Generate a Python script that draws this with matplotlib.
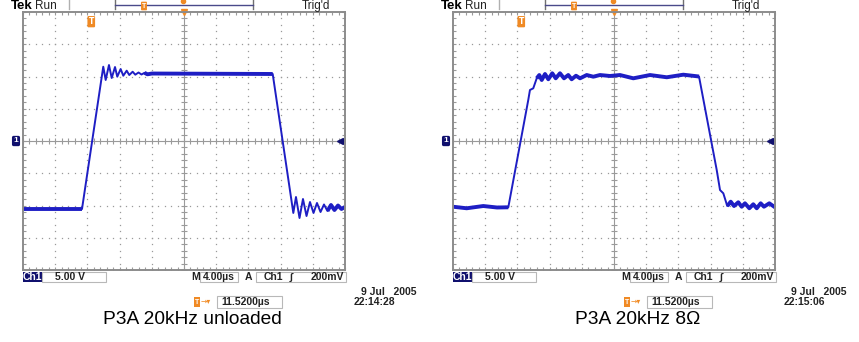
import numpy as np
import matplotlib
matplotlib.use("Agg")
import matplotlib.pyplot as plt
from matplotlib.patches import Rectangle
from matplotlib.lines import Line2D

# waveform vertices (time in us, volts)
left_t = [0.0, 7.33, 9.97, 10.27, 10.68, 11.02, 11.43, 11.71, 12.13, 12.46, 12.88, 13.20,
          13.62, 13.95, 14.35, 14.72, 15.09, 15.46, 16.02, 31.02, 33.58, 33.91, 34.35,
          34.78, 35.22, 35.65, 36.09, 36.52, 36.96, 37.39, 37.82, 38.26, 38.69, 39.13,
          39.56, 40.0]
left_v = [-10.54, -10.54, 11.52, 9.46, 11.78, 9.77, 11.47, 9.97, 11.16, 10.12, 10.90, 10.23,
          10.74, 10.28, 10.62, 10.31, 10.57, 10.34, 10.46, 10.39, -11.16, -8.68, -11.94,
          -8.99, -11.63, -9.46, -11.16, -9.61, -11.01, -9.84, -10.85, -9.92, -10.70, -10.0,
          -10.54, -10.23]

right_t = [0.0, 1.70, 3.76, 5.47, 6.87, 9.35, 9.56, 9.97, 10.40, 10.72, 11.02, 11.43, 11.84,
           12.33, 12.76, 13.29, 13.79, 14.32, 14.74, 15.28, 15.78, 16.61, 17.43, 18.26, 19.50,
           20.74, 22.40, 24.47, 26.55, 28.61, 30.56, 32.76, 33.17, 33.58, 34.07, 34.50, 34.91,
           35.44, 35.86, 36.27, 36.81, 37.30, 37.73, 38.22, 38.63, 39.29, 40.0]
right_v = [-10.19, -10.43, -10.08, -10.31, -10.28, 6.36, 7.91, 8.17, 9.72, 10.23, 9.46, 10.39,
           9.57, 10.50, 9.72, 10.50, 9.72, 10.23, 9.57, 10.12, 9.72, 10.23, 9.97, 10.23, 10.08,
           10.23, 9.72, 10.23, 9.88, 10.28, 10.0, -4.50, -7.60, -8.11, -10.08, -9.41, -10.08,
           -9.50, -10.19, -9.66, -10.43, -9.81, -10.43, -9.66, -10.19, -9.66, -10.28]

# index ranges where the trace shows as a thick noisy band
left_thick = [(0, 2), (16, 20), (30, 36)]
right_thick = [(0, 5), (8, 31), (34, 47)]

titles = ["P3A 20kHz unloaded", "P3A 20kHz 8Ω"]
title_x = [192.5, 638]
clocks = ["22:14:28", "22:15:06"]
volts_div = "5.00 V"
time_div = "4.00µs"
trig_level = "200mV"
trig_pos = "11.5200µs"
date = "9 Jul   2005"

W, H = 859, 342
TRACE = "#1e1ec4"
GRID = "#9a9a9a"
ORANGE = "#f08a24"
NAVY = "#10106e"
SCOPE_FONT = ["Liberation Sans", "DejaVu Sans"]

fig = plt.figure(figsize=(W / 100, H / 100), dpi=100)
fig.patch.set_facecolor("white")


def fx(x):
    return x / W


def fy(y):
    return 1 - y / H


def ftext(x, y, s, **kw):
    kw.setdefault("family", SCOPE_FONT)
    kw.setdefault("va", "center")
    fig.text(fx(x), fy(y), s, **kw)


def fbox(x0, y0, x1, y1, **kw):
    fig.add_artist(Rectangle((fx(x0), fy(y1)), fx(x1) - fx(x0), fy(y0) - fy(y1),
                             transform=fig.transFigure, **kw))


def fline(xs, ys, **kw):
    fig.add_artist(Line2D([fx(x) for x in xs], [fy(y) for y in ys],
                          transform=fig.transFigure, **kw))


def panel(ox, t, v, thick, title, tx, clock):
    ax = fig.add_axes([fx(ox + 23), fy(270), 322 / W, 258 / H])
    ax.set_xlim(0, 40)
    ax.set_ylim(-20, 20)

    # graticule: dotted divisions, ticked centre lines
    ydots = np.arange(-20, 20.01, 1.0)
    xdots = np.arange(0, 40.01, 0.8)
    for x in np.arange(4, 40, 4):
        if x != 20:
            ax.plot(np.full_like(ydots, x), ydots, ls="none", marker="s", ms=0.9,
                    mew=0, color=GRID)
    for y in np.arange(-15, 20, 5):
        if y != 0:
            ax.plot(xdots, np.full_like(xdots, y), ls="none", marker="s", ms=0.9,
                    mew=0, color=GRID)
    ax.axhline(0, color=GRID, lw=0.8)
    ax.axvline(20, color=GRID, lw=0.8)
    ax.plot(xdots, np.zeros_like(xdots), ls="none", marker="|", ms=4, mew=0.8, color=GRID)
    ax.plot(np.full_like(ydots, 20), ydots, ls="none", marker="_", ms=4, mew=0.8, color=GRID)

    ax.set_xticks(xdots)
    ax.set_yticks(ydots)
    ax.tick_params(direction="in", length=2.5, width=0.8, color=GRID, top=True, right=True,
                   labelbottom=False, labelleft=False)
    for sp in ax.spines.values():
        sp.set_color("#8c8c8c")
        sp.set_linewidth(1.4)

    # trace
    ax.plot(t, v, color=TRACE, lw=1.4, solid_joinstyle="round")
    for a, b in thick:
        ax.plot(t[a:b], v[a:b], color=TRACE, lw=2.8, solid_capstyle="butt")

    # markers on the graticule
    ax.plot([39.4], [0], marker="<", ms=4.5, color=NAVY, clip_on=False)
    ax.plot([20], [20], marker="v", ms=5, color=ORANGE, clip_on=False)
    ax.text(8.48, 18.5, "T", color="white", fontsize=5.5, fontweight="bold",
            ha="center", va="center",
            bbox=dict(boxstyle="round,pad=0.15", fc=ORANGE, ec="none"))
    ftext(ox + 16, 141, "1", color="white", fontsize=6, fontweight="bold", ha="center",
          bbox=dict(boxstyle="round,pad=0.2", fc=NAVY, ec="none"))

    # top status bar
    ftext(ox + 11, 6, "Tek", fontsize=9.5, fontweight="bold", color="black")
    ftext(ox + 35, 6, "Run", fontsize=8.5, color="#222222")
    ftext(ox + 302, 6, "Trig'd", fontsize=8.5, color="#222222")
    fline([ox + 69, ox + 69], [0, 9], color="#b0b0b0", lw=1)
    fline([ox + 115, ox + 115], [0, 9], color="#707070", lw=1)
    fline([ox + 253, ox + 253], [0, 9], color="#707070", lw=1)
    fline([ox + 115, ox + 253], [5, 5], color="#4a4a8a", lw=1)
    ftext(ox + 144, 6, "T", color="white", fontsize=5, fontweight="bold", ha="center",
          bbox=dict(boxstyle="round,pad=0.12", fc=ORANGE, ec="none"))
    fig.add_artist(Line2D([fx(ox + 183)], [fy(1)], marker="o", ms=3, color=ORANGE,
                          transform=fig.transFigure))

    # bottom readouts
    fbox(ox + 23, 272, ox + 42, 282, fc=NAVY, ec="none")
    ftext(ox + 32.5, 277, "Ch1", color="white", fontsize=7.5, fontweight="bold", ha="center")
    fbox(ox + 42, 272, ox + 106, 282, fc="none", ec="#b8b8b8", lw=0.8)
    ftext(ox + 55, 277, volts_div, fontsize=7.5, fontweight="bold", color="#222222")
    ftext(ox + 191, 277, "M", fontsize=7.5, fontweight="bold", color="#222222")
    fbox(ox + 200, 272, ox + 238, 282, fc="none", ec="#b8b8b8", lw=0.8)
    ftext(ox + 203, 277, time_div, fontsize=7.5, fontweight="bold", color="#222222")
    ftext(ox + 245, 277, "A", fontsize=7.5, fontweight="bold", color="#222222")
    fbox(ox + 256, 272, ox + 346, 282, fc="none", ec="#b8b8b8", lw=0.8)
    ftext(ox + 264, 277, "Ch1", fontsize=7.5, fontweight="bold", color="#222222")
    ftext(ox + 290, 277, "∫", fontsize=7.5, fontweight="bold", color="#222222")
    ftext(ox + 311, 277, trig_level, fontsize=7.5, fontweight="bold", color="#222222")

    ftext(ox + 361, 292, date, fontsize=7.5, fontweight="bold", color="#222222")
    ftext(ox + 354, 302, clock, fontsize=7.5, fontweight="bold", color="#222222")

    ftext(ox + 197, 302, "T", color="white", fontsize=5, fontweight="bold", ha="center",
          bbox=dict(boxstyle="square,pad=0.15", fc=ORANGE, ec="none"))
    ftext(ox + 201, 301.5, "→▾", color=ORANGE, fontsize=5.5, family=["DejaVu Sans"])
    fbox(ox + 217, 296, ox + 282, 308, fc="none", ec="#b8b8b8", lw=0.8)
    ftext(ox + 221, 302, trig_pos, fontsize=7.5, fontweight="bold", color="#222222")

    ftext(tx, 320, title, fontsize=13.8, ha="center", color="black",
          family=["Liberation Sans", "DejaVu Sans"])
    return ax


panel(0, np.array(left_t), np.array(left_v), left_thick, titles[0], title_x[0], clocks[0])
panel(430, np.array(right_t), np.array(right_v), right_thick, titles[1], title_x[1], clocks[1])

fig.savefig("out.png", dpi=100, facecolor="white")
